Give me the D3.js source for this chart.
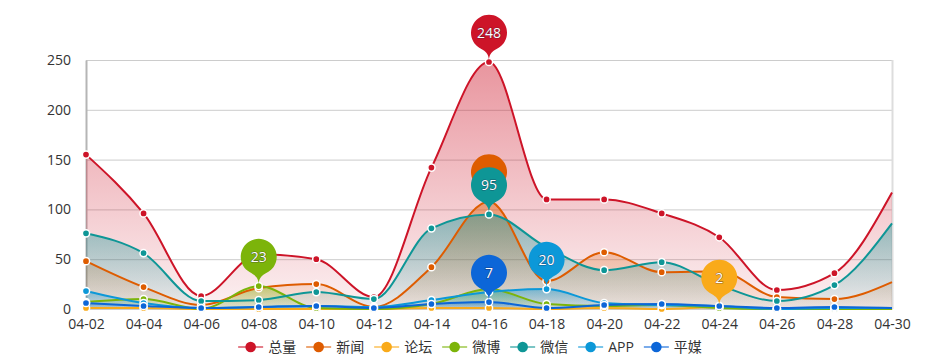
<!DOCTYPE html>
<html>
<head>
<meta charset="utf-8">
<script src="https://cdn.jsdelivr.net/npm/d3@7"></script>
<style>
  html, body { margin: 0; padding: 0; background: #fff; }
  svg { display: block; }
  text { font-family: "Open Sans", "Noto Sans CJK SC", sans-serif; }
</style>
</head>
<body>
<svg id="chart" width="940" height="360"></svg>
<script>
// ---------- data ----------
const dates = ["04-02","04-04","04-06","04-08","04-10","04-12","04-14","04-16","04-18","04-20","04-22","04-24","04-26","04-28","04-30"];
const yTicks = [0, 50, 100, 150, 200, 250];
const seriesNames = ["总量","新闻","论坛","微博","微信","APP","平媒"];
const seriesColors = ["#cd1428","#de5c00","#f9aa1a","#7cb40a","#0e9696","#0c98d8","#0c66d8"];
// the 新闻 max pin sits behind the 微信 pin, its label is not visible in the chart
const pinLabelShown = [true, false, true, true, true, true, true];
const totalVals  = [155, 96, 13, 55, 50, 12, 142, 248, 110, 110, 96, 72, 19, 36, 117];
const newsVals   = [48, 22, 4, 21, 25, 2, 42, 108, 28, 57, 37, 38, 12, 10, 27];
const forumVals  = [1, 1, 0, 0, 0, 0, 1, 1, 0, 1, 0, 2, 0, 0, 0];
const weiboVals  = [7, 10, 0, 23, 1, 0, 5, 20, 5, 3, 4, 1, 0, 0, 0];
const weixinVals = [76, 56, 8, 9, 17, 10, 81, 95, 62, 39, 47, 24, 8, 24, 86];
const appVals    = [18, 6, 1, 2, 3, 2, 9, 17, 20, 6, 4, 3, 0, 1, 1];
const printVals  = [6, 3, 1, 2, 3, 1, 5, 7, 1, 4, 5, 3, 1, 2, 1];
const seriesValues = [totalVals, newsVals, forumVals, weiboVals, weixinVals, appVals, printVals];

(function () {
// ---------- layout ----------
const svg = d3.select("#chart");
const pLeft = 86, pRight = 892, pTop = 60, pBottom = 309;
const x = d3.scalePoint().domain(dates).range([pLeft, pRight]);
const y = d3.scaleLinear().domain([0, 250]).range([pBottom, pTop]);

const defs = svg.append("defs");
seriesColors.forEach((c, i) => {
  const g = defs.append("linearGradient").attr("id", "grad" + i)
    .attr("x1", 0).attr("y1", 0).attr("x2", 0).attr("y2", 1);
  g.append("stop").attr("offset", "0%").attr("stop-color", c).attr("stop-opacity", 0.45);
  g.append("stop").attr("offset", "100%").attr("stop-color", c).attr("stop-opacity", 0.06);
});

// grid lines
const grid = svg.append("g").attr("transform", `translate(${pLeft},0)`)
  .call(d3.axisLeft(y).tickValues(yTicks).tickSize(-(pRight - pLeft)).tickFormat(""));
grid.select(".domain").remove();
grid.selectAll("line").attr("stroke", "#cccccc").attr("stroke-width", 1);

// right border
svg.append("line").attr("x1", pRight + 0.5).attr("x2", pRight + 0.5).attr("y1", pTop).attr("y2", pBottom)
  .attr("stroke", "#dddddd").attr("stroke-width", 2);

// y axis
const yAxis = svg.append("g").attr("transform", `translate(${pLeft},0)`)
  .call(d3.axisLeft(y).tickValues(yTicks).tickSize(0).tickPadding(15));
yAxis.select(".domain").attr("stroke", "#b5b5b5").attr("stroke-width", 2);
yAxis.selectAll("text").attr("fill", "#333").style("font-size", "14px");

// x axis
const xAxis = svg.append("g").attr("transform", `translate(0,${pBottom})`)
  .call(d3.axisBottom(x).tickSize(0).tickPadding(10));
xAxis.select(".domain").attr("stroke", "#cccccc");
xAxis.selectAll("text").attr("fill", "#333").style("font-size", "14px");

// series
const curve = d3.curveMonotoneX;
const area = d3.area().x((d, i) => x(dates[i])).y0(y(0)).y1(d => y(d)).curve(curve);
const line = d3.line().x((d, i) => x(dates[i])).y(d => y(d)).curve(curve);

const areaG = svg.append("g");
const lineG = svg.append("g");
const dotG = svg.append("g");
const pinG = svg.append("g");

seriesValues.forEach((vals, s) => {
  areaG.append("path").attr("d", area(vals)).attr("fill", `url(#grad${s})`);
  lineG.append("path").attr("d", line(vals)).attr("fill", "none")
    .attr("stroke", seriesColors[s]).attr("stroke-width", 2);
});
seriesValues.forEach((vals, s) => {
  dotG.selectAll(null).data(vals.slice(0, vals.length - 1)).enter().append("circle")
    .attr("cx", (d, i) => x(dates[i])).attr("cy", d => y(d)).attr("r", 3.6)
    .attr("fill", seriesColors[s]).attr("stroke", "#fff").attr("stroke-width", 1.5);
});

// pins (max markers)
function pinPath(px, py) {
  const r = 18, h = 55;
  const dy = r * r / (h - r);
  const cy = py - h + r + dy;
  const angle = Math.asin(dy / r);
  const dx = Math.cos(angle) * r;
  const tanX = Math.sin(angle), tanY = Math.cos(angle);
  const cpLen = r * 0.6, cpLen2 = r * 0.7;
  const p = d3.path();
  p.moveTo(px - dx, cy + dy);
  p.arc(px, cy, r, Math.PI - angle, Math.PI * 2 + angle);
  p.bezierCurveTo(px + dx - tanX * cpLen, cy + dy + tanY * cpLen, px, py - cpLen2, px, py);
  p.bezierCurveTo(px, py - cpLen2, px - dx + tanX * cpLen, cy + dy + tanY * cpLen, px - dx, cy + dy);
  p.closePath();
  return { d: p.toString(), cy };
}
seriesValues.forEach((vals, s) => {
  const mi = d3.maxIndex(vals);
  const px = x(dates[mi]), py = y(vals[mi]) - 1;
  const pin = pinPath(px, py);
  pinG.append("path").attr("d", pin.d).attr("fill", seriesColors[s]);
  if (pinLabelShown[s]) {
    pinG.append("text").attr("x", px).attr("y", pin.cy).attr("dy", "0.35em")
      .attr("text-anchor", "middle").attr("fill", "#fff").style("font-size", "14px")
      .attr("stroke", "rgba(30,20,60,0.45)").attr("stroke-width", 1.2).attr("paint-order", "stroke")
      .text(vals[mi]);
  }
});

// legend
const legend = svg.append("g");
let lx = 0;
seriesNames.forEach((name, s) => {
  const g = legend.append("g").attr("transform", `translate(${lx},0)`);
  g.append("line").attr("x1", 0).attr("x2", 25).attr("y1", 0).attr("y2", 0)
    .attr("stroke", seriesColors[s]).attr("stroke-opacity", 0.55).attr("stroke-width", 2);
  g.append("circle").attr("cx", 12.5).attr("cy", 0).attr("r", 5.3).attr("fill", seriesColors[s]);
  const t = g.append("text").attr("x", 30).attr("y", 0).attr("dy", "0.35em")
    .attr("fill", "#333").style("font-size", "14px").text(name);
  lx += 30 + t.node().getComputedTextLength() + 10;
});
const legendWidth = lx - 10;
legend.attr("transform", `translate(${470 - legendWidth / 2},347)`);
})();
</script>
</body>
</html>
